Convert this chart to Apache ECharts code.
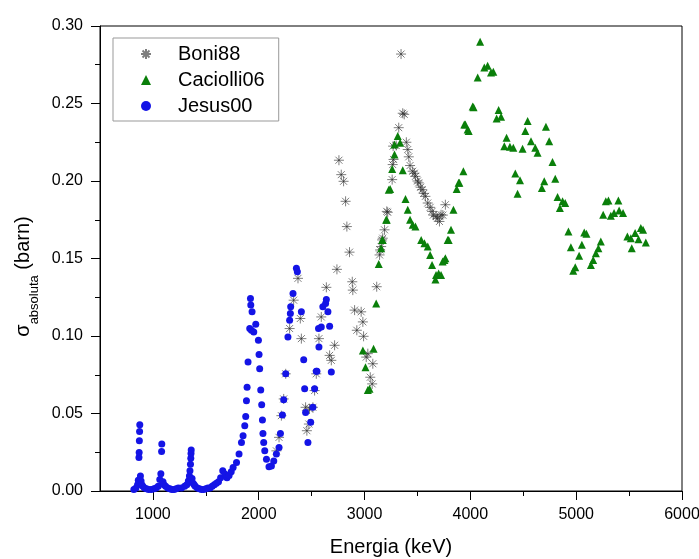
<!DOCTYPE html>
<html>
<head>
<meta charset="utf-8">
<script src="https://cdn.jsdelivr.net/npm/echarts@6/dist/echarts.min.js"></script>
<style>
  html, body { margin: 0; padding: 0; background: #fff; }
  #chart { width: 699px; height: 559px; }
</style>
</head>
<body>
<div id="chart"></div>
<script>
// [energia keV, sigma barn]
var boni88 = [
  [2167,0.0259],[2192,0.0346],[2214,0.0486],[2236,0.0594],[2255,0.0756],[2292,0.1048],[2330,0.1231],[2371,0.1372],
  [2393,0.1113],[2403,0.0983],[2443,0.054],[2455,0.0389],[2474,0.0432],[2480,0.0529],[2512,0.054],[2528,0.0648],
  [2544,0.0756],[2569,0.0983],[2591,0.1123],[2639,0.1314],[2670,0.0875],[2686,0.0843],[2717,0.094],[2739,0.143],
  [2758,0.2134],[2780,0.2041],[2802,0.1998],[2821,0.1869],[2833,0.1706],[2858,0.1541],[2884,0.135],[2889,0.1296],
  [2906,0.1167],[2927,0.1037],[2968,0.1156],[2984,0.1091],[2991,0.0998],[3016,0.0864],[3031,0.0886],[3054,0.0734],
  [3072,0.0691],[3078,0.0821],[3115,0.1318],[3142,0.1523],[3147,0.1555],[3157,0.1577],[3166,0.162],[3172,0.1631],
  [3189,0.1685],[3210,0.1804],[3219,0.1798],[3261,0.2009],[3266,0.2106],[3274,0.2139],[3270,0.2225],[3299,0.2229],
  [3323,0.2344],[3345,0.2819],[3361,0.2437],[3375,0.243],[3395,0.225],[3408,0.2203],[3418,0.2156],[3430,0.21],
  [3455,0.2063],[3470,0.205],[3481,0.203],[3500,0.2],[3512,0.1988],[3530,0.196],[3544,0.1944],[3560,0.192],
  [3575,0.1901],[3597,0.1858],[3620,0.183],[3638,0.1804],[3650,0.178],[3676,0.1771],[3690,0.176],[3708,0.1739],
  [3723,0.1782],[3740,0.178],[3764,0.1847]
];

var caciolli06 = [
  [2984,0.0907],[3009,0.0799],[3031,0.0652],[3047,0.0659],[3085,0.0918],[3110,0.121],[3134,0.1465],[3157,0.1566],
  [3166,0.162],[3172,0.162],[3204,0.175],[3210,0.175],[3229,0.1944],[3242,0.1949],[3261,0.2078],[3283,0.2171],
  [3283,0.2236],[3314,0.229],[3336,0.2247],[3361,0.207],[3387,0.1884],[3408,0.1815],[3430,0.175],[3455,0.1717],
  [3481,0.1706],[3535,0.162],[3566,0.1599],[3597,0.1577],[3620,0.1523],[3638,0.1458],[3670,0.1365],[3676,0.1393],
  [3700,0.1404],[3723,0.1393],[3738,0.148],[3755,0.149],[3764,0.1502],[3786,0.162],[3795,0.162],[3817,0.1685],
  [3840,0.1815],[3871,0.1949],[3889,0.1988],[3896,0.1988],[3934,0.2063],[3943,0.2365],[3953,0.2365],[3974,0.2333],
  [3984,0.2322],[4022,0.248],[4030,0.2476],[4069,0.2668],[4092,0.2899],[4132,0.2733],[4163,0.2743],[4195,0.27],
  [4217,0.2705],[4248,0.2403],[4267,0.2458],[4290,0.2415],[4321,0.2225],[4342,0.2279],[4374,0.2221],[4406,0.2214],
  [4425,0.2048],[4446,0.1918],[4469,0.2005],[4493,0.2208],[4519,0.2322],[4541,0.2387],[4573,0.2257],[4613,0.2214],
  [4635,0.2182],[4676,0.1955],[4698,0.1998],[4714,0.235],[4745,0.2257],[4776,0.2122],[4802,0.2014],[4824,0.1897],
  [4846,0.1826],[4871,0.1869],[4896,0.1858],[4927,0.1674],[4950,0.1573],[4972,0.1421],[4991,0.1443],[5028,0.1517],
  [5054,0.1588],[5076,0.1668],[5097,0.1659],[5139,0.1458],[5161,0.149],[5186,0.1534],[5210,0.1566],[5233,0.1609],
  [5255,0.1782],[5280,0.1869],[5305,0.1875],[5327,0.1776],[5358,0.1793],[5399,0.1875],[5406,0.181],[5443,0.1793],
  [5484,0.1642],[5516,0.1631],[5525,0.1566],[5557,0.1664],[5589,0.1625],[5611,0.1696],[5632,0.1685],[5658,0.1603]
];

var jesus00 = [
  [820,0.001],[840,0.002],[855,0.004],[862,0.007],[868,0.0216],[870,0.0248],[872,0.0324],[874,0.0384],[876,0.0428],
  [882,0.0097],[888,0.0065],[895,0.004],[905,0.003],[920,0.002],[940,0.0015],[960,0.001],[985,0.001],[1010,0.0015],
  [1030,0.002],[1050,0.003],[1065,0.0074],[1075,0.0112],[1082,0.0255],[1084,0.0303],[1095,0.006],[1105,0.004],
  [1120,0.003],[1140,0.002],[1160,0.0015],[1180,0.001],[1200,0.001],[1220,0.0015],[1240,0.002],[1270,0.002],
  [1300,0.003],[1320,0.004],[1335,0.0065],[1345,0.0097],[1350,0.013],[1355,0.0173],[1358,0.0212],[1360,0.0242],
  [1362,0.0264],[1370,0.008],[1380,0.005],[1390,0.004],[1400,0.003],[1420,0.002],[1440,0.0015],[1460,0.001],
  [1480,0.001],[1500,0.0015],[1520,0.002],[1540,0.002],[1560,0.003],[1580,0.004],[1600,0.005],[1620,0.006],
  [1640,0.0086],[1660,0.013],[1680,0.011],[1700,0.0086],[1720,0.01],[1740,0.0125],
  [1758,0.0151],[1790,0.0184],[1814,0.0238],[1837,0.0313],[1852,0.0356],[1868,0.0421],[1877,0.048],[1884,0.0583],
  [1890,0.067],[1899,0.0832],[1915,0.1048],[1922,0.1242],[1925,0.12],[1931,0.1037],[1937,0.1156],[1953,0.1026],
  [1972,0.1076],[1997,0.0972],[2003,0.0881],[2009,0.0789],[2019,0.0652],[2028,0.0557],[2035,0.0458],[2040,0.0371],
  [2047,0.0313],[2057,0.0259],[2073,0.0205],[2097,0.0156],[2120,0.0162],[2142,0.0194],[2167,0.0238],[2192,0.0281],
  [2205,0.0371],[2224,0.049],[2236,0.0588],[2255,0.0756],[2276,0.0994],[2292,0.1102],[2299,0.1145],[2302,0.1188],
  [2324,0.1275],[2356,0.1437],[2365,0.1415],[2403,0.1156],[2425,0.0847],[2434,0.0659],[2443,0.0507],[2465,0.0313],
  [2491,0.0443],[2512,0.054],[2528,0.0659],[2544,0.0773],[2550,0.0773],[2565,0.1048],[2569,0.0929],[2591,0.1058],
  [2606,0.1188],[2632,0.121],[2639,0.1235],[2654,0.1156],[2670,0.1063],[2686,0.0767]
];

var xLabelTicks = [1000, 2000, 3000, 4000, 5000, 6000];
var xMinorTicks = [1500, 2500, 3500, 4500, 5500];

var fontFam = '"Liberation Sans", Arial, sans-serif';
var asterisk = 'path://M5,0L5,10M0,5L10,5M1.5,1.5L8.5,8.5M8.5,1.5L1.5,8.5';

var chart = echarts.init(document.getElementById('chart'), null, { renderer: 'canvas' });

var option = {
  animation: false,
  backgroundColor: '#fff',
  textStyle: { fontFamily: fontFam },
  grid: {
    left: 100, right: 17, top: 26, bottom: 68,
    outerBoundsMode: 'none',
    show: true, borderColor: '#000', borderWidth: 1
  },
  legend: {
    orient: 'vertical',
    left: 113, top: 38,
    padding: [6, 14, 5, 27],
    itemGap: 6,
    itemWidth: 10, itemHeight: 10,
    borderColor: '#999', borderWidth: 1,
    backgroundColor: '#fff',
    textStyle: { fontSize: 20, color: '#000', fontFamily: fontFam, padding: [0, 0, 0, 22] },
    data: ['Boni88', 'Caciolli06', 'Jesus00']
  },
  xAxis: [{
    type: 'value',
    min: 500, max: 6000, interval: 500,
    name: 'Energia (keV)',
    nameLocation: 'middle',
    nameGap: 46,
    nameTextStyle: { fontSize: 20, color: '#000', fontFamily: fontFam },
    axisLine: { lineStyle: { color: '#000', width: 1 } },
    axisTick: { inside: false, length: 9, customValues: xLabelTicks, lineStyle: { color: '#000' } },
    axisLabel: {
      customValues: xLabelTicks, fontSize: 16, color: '#000', margin: 16,
      formatter: function (v) { return String(v); }
    },
    splitLine: { show: false }
  }, {
    type: 'value',
    position: 'bottom',
    min: 500, max: 6000, interval: 500,
    axisLine: { show: false },
    axisTick: { length: 5, customValues: xMinorTicks, lineStyle: { color: '#000' } },
    axisLabel: { show: false },
    splitLine: { show: false }
  }],
  yAxis: {
    type: 'value',
    min: 0, max: 0.3, interval: 0.05,
    name: '{s|σ}{sub|absoluta}{n| (barn)}',
    nameLocation: 'middle',
    nameGap: 55,
    nameTextStyle: {
      color: '#000',
      padding: [0, 36, 0, 0],
      rich: {
        s: { fontSize: 20, lineHeight: 22, verticalAlign: 'top', fontFamily: fontFam, color: '#000' },
        sub: { fontSize: 13, lineHeight: 27, verticalAlign: 'bottom', fontFamily: fontFam, color: '#000' },
        n: { fontSize: 20, lineHeight: 22, verticalAlign: 'top', fontFamily: fontFam, color: '#000' }
      }
    },
    axisLine: { lineStyle: { color: '#000', width: 1 } },
    axisTick: { length: 9, lineStyle: { color: '#000' } },
    minorTick: { show: true, splitNumber: 2, length: 5, lineStyle: { color: '#000' } },
    axisLabel: {
      fontSize: 16, color: '#000', margin: 17,
      formatter: function (v) { return v.toFixed(2); }
    },
    splitLine: { show: false }
  },
  series: [{
    name: 'Boni88',
    type: 'scatter',
    data: boni88,
    symbol: asterisk,
    symbolSize: 10,
    itemStyle: { color: 'rgba(0,0,0,0)', borderColor: 'rgba(40,40,40,0.75)', borderWidth: 1 },
    z: 2
  }, {
    name: 'Caciolli06',
    type: 'scatter',
    data: caciolli06,
    symbol: 'triangle',
    symbolSize: 8,
    itemStyle: { color: '#0a7f0a', opacity: 1 },
    z: 3
  }, {
    name: 'Jesus00',
    type: 'scatter',
    data: jesus00,
    symbol: 'circle',
    symbolSize: 7,
    itemStyle: { color: '#1414e6', opacity: 1 },
    z: 4
  }]
};

chart.setOption(option);
</script>
</body>
</html>
